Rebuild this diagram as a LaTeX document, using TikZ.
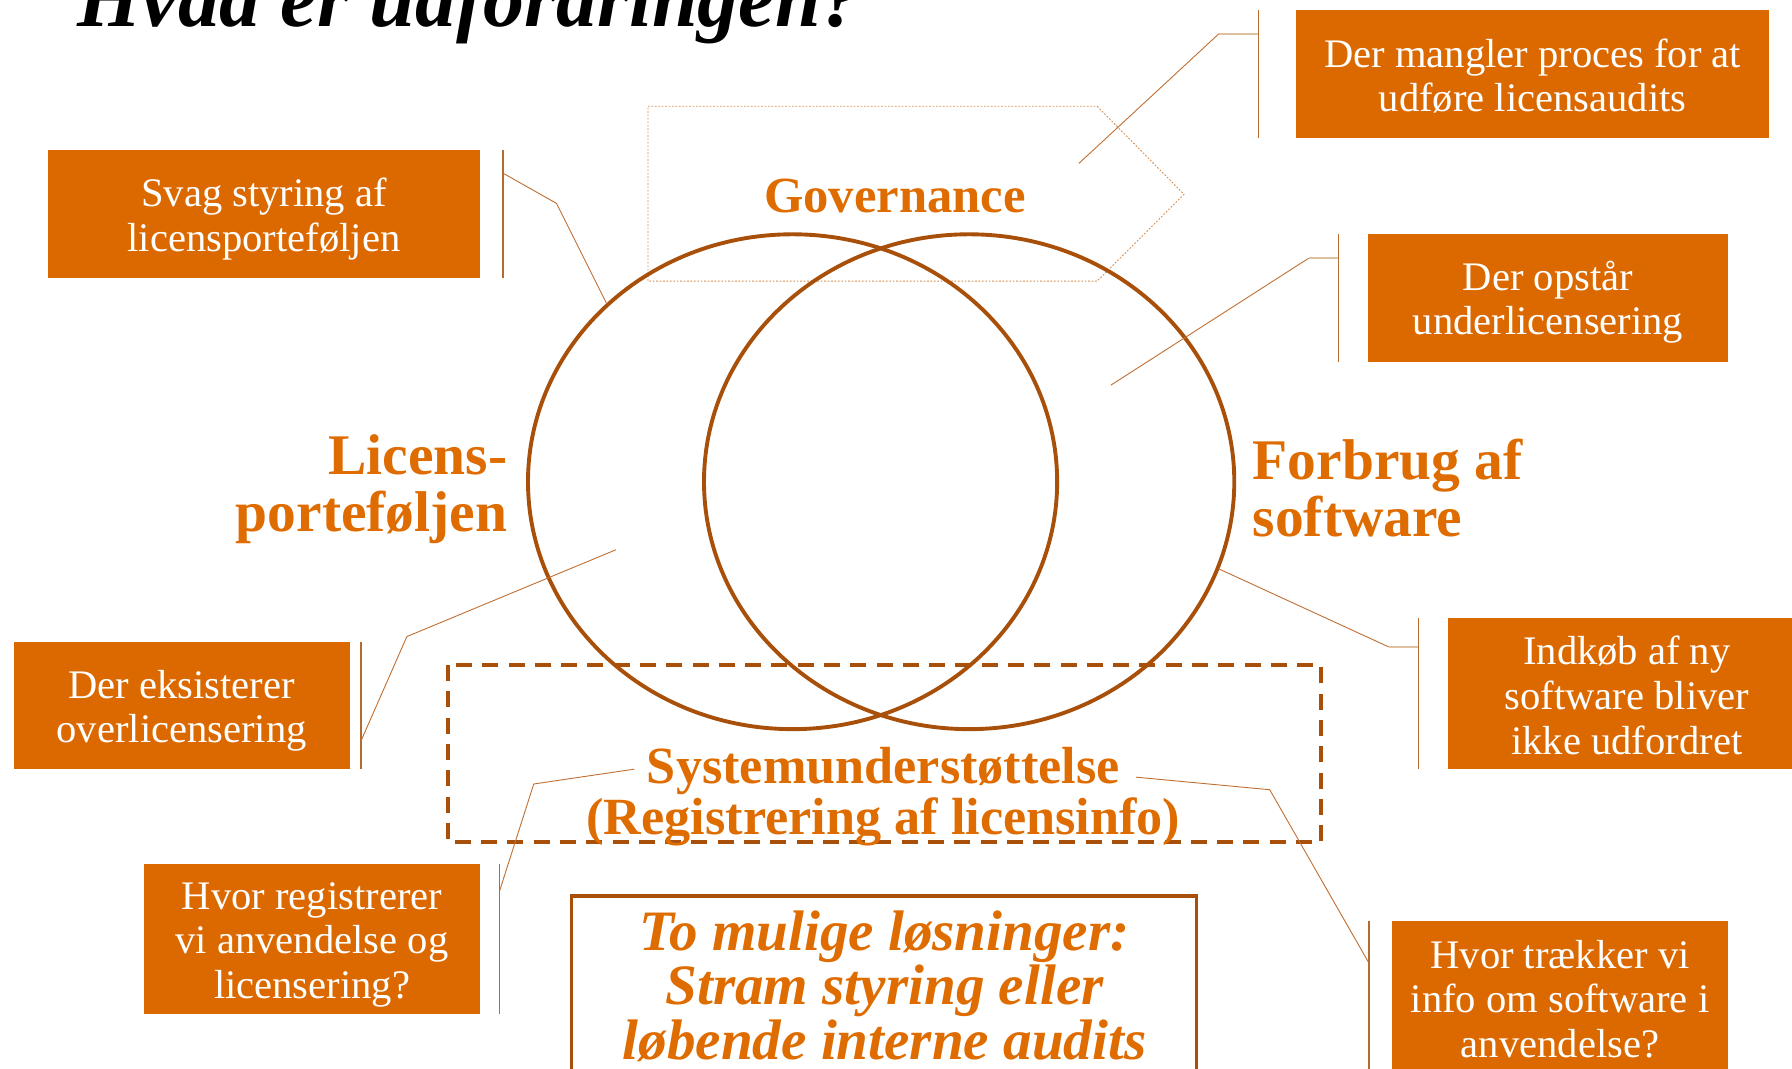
\documentclass[tikz,border=0pt]{standalone}
\usepackage{fontspec}
\setmainfont{Liberation Serif}
\definecolor{boxorange}{RGB}{219,105,0}
\definecolor{labelorange}{RGB}{222,108,0}
\definecolor{vennbrown}{RGB}{168,80,10}
\definecolor{leadercol}{RGB}{192,112,52}
\definecolor{tancol}{RGB}{224,192,158}
\definecolor{dotcol}{RGB}{214,140,80}
\begin{document}
\begin{tikzpicture}[x=1pt,y=-1pt,
  obox/.style={fill=boxorange, inner sep=0pt},
  otext/.style={text=white, align=center, inner sep=0pt,
    font=\fontsize{35.5}{39}\selectfont},
  biglabel/.style={text=labelorange, inner sep=0pt,
    font=\bfseries\fontsize{50.3}{50}\selectfont},
  vennline/.style={draw=vennbrown, line width=3.4pt},
  bracket/.style={draw=vennbrown!85!white, line width=1.2pt},
  leader/.style={draw=leadercol, line width=0.8pt},
  tanseg/.style={draw=tancol, line width=1.5pt}
]
\useasboundingbox (0,0) rectangle (1568,935);

% title
\node[anchor=base west, inner sep=0pt, font=\bfseries\itshape\fontsize{71.8}{72}\selectfont] (title) at (68,23) {Hvad er udfordringen?};

% governance dotted pentagon
\draw[draw=dotcol, line width=0.8pt, dash pattern=on 1.5pt off 1.5pt]
  (567,93) -- (960,93) -- (1036,170) -- (960,246) -- (567,246) -- cycle;
\node[text=labelorange, inner sep=0pt, anchor=base, font=\bfseries\fontsize{44.3}{45}\selectfont] (gov) at (783,186) {Governance};

% venn ellipses
\draw[vennline] (693.5,421.5) ellipse [x radius=231.5, y radius=216.5];
\draw[vennline] (848,421.5) ellipse [x radius=232, y radius=216.5];

% big labels
\node[biglabel, anchor=east, align=right] (lic) at (444,428) {Licens-\\porteføljen};
\node[biglabel, anchor=west, align=left] (forb) at (1096,427) {Forbrug af\\software};

% system support dashed box
\draw[draw=vennbrown, line width=3.4pt, dash pattern=on 14pt off 9pt] (392,582) rectangle (1156,737);
\node[text=labelorange, inner sep=0pt, align=center, font=\bfseries\fontsize{45.7}{45}\selectfont] (sys) at (773,697) {Systemunderstøttelse\\(Registrering af licensinfo)};

% bottom solutions box
\draw[draw=vennbrown, line width=3pt] (500,784) rectangle (1047,960);
\node[text=labelorange, inner sep=0pt, align=center, font=\bfseries\itshape\fontsize{50}{47.5}\selectfont] (sol) at (774,863) {To mulige løsninger:\\Stram styring eller\\løbende interne audits};

% orange boxes
\node[obox, minimum width=378pt, minimum height=112pt] (boxA) at (231,187) {};
\node[obox, minimum width=414pt, minimum height=112pt] (boxB) at (1341,65) {};
\node[obox, minimum width=315pt, minimum height=112pt] (boxC) at (1354.5,261) {};
\node[obox, minimum width=313pt, minimum height=132pt] (boxD) at (1423.5,607) {};
\node[obox, minimum width=294pt, minimum height=111pt] (boxE) at (159,617.5) {};
\node[obox, minimum width=294pt, minimum height=131pt] (boxF) at (273,821.5) {};
\node[obox, minimum width=294pt, minimum height=134pt] (boxG) at (1365,873) {};
% box texts
\node[otext] (tA) at ([yshift=-4.5pt]boxA.center) {Svag styring af\\licensporteføljen};
\node[otext] (tB) at ([yshift=-1.5pt]boxB.center) {Der mangler proces for at\\udføre licensaudits};
\node[otext] (tC) at ([yshift=-3.5pt]boxC.center) {Der opstår\\underlicensering};
\node[otext] (tD) at ([yshift=-1.5pt]boxD.center) {Indkøb af ny\\software bliver\\ikke udfordret};
\node[otext] (tE) at ([yshift=-4.5pt]boxE.center) {Der eksisterer\\overlicensering};
\node[otext] (tF) at ([yshift=-5pt]boxF.center) {Hvor registrerer\\vi anvendelse og\\licensering?};
\node[otext] (tG) at ([yshift=-1pt]boxG.center) {Hvor trækker vi\\info om software i\\anvendelse?};

% callout coordinates
\coordinate (A0) at (440,131); \coordinate (A1) at (440,243);
\coordinate (Aa) at (441,152); \coordinate (Ab) at (487,178); \coordinate (Ac) at (531,266);
\coordinate (B0) at (1101,9); \coordinate (B1) at (1101,121);
\coordinate (Ba) at (1101,30); \coordinate (Bb) at (1066,30); \coordinate (Bc) at (944,143);
\coordinate (C0) at (1171,205); \coordinate (C1) at (1171,317);
\coordinate (Ca) at (1171,226); \coordinate (Cb) at (1145,226); \coordinate (Cc) at (972,337);
\coordinate (D0) at (1241,541); \coordinate (D1) at (1241,673);
\coordinate (Da) at (1241,566); \coordinate (Db) at (1215,566); \coordinate (Dc) at (1067,498);
\coordinate (E0) at (316,562); \coordinate (E1) at (316,673);
\coordinate (Ea) at (316,648); \coordinate (Eb) at (356,557); \coordinate (Ec) at (539,481);
\coordinate (F0) at (437,756); \coordinate (F1) at (437,887);
\coordinate (Fa) at (437,780); \coordinate (Fb) at (467,686); \coordinate (Fc) at (555,673);
\coordinate (G0) at (1198,806); \coordinate (G1) at (1198,945);
\coordinate (Ga) at (1198,843); \coordinate (Gb) at (1111,691); \coordinate (Gc) at (994,680);

% brackets
\foreach \k in {A,B,C,D,E,F,G} { \draw[bracket] (\k0) -- (\k1); }
% tan short segments
\draw[tanseg] (Ba) -- (Bb);
\draw[tanseg] (Ca) -- (Cb);
\draw[tanseg] (Da) -- (Db);
% leaders
\draw[leader] (Aa) -- (Ab) -- (Ac);
\draw[leader] (Bb) -- (Bc);
\draw[leader] (Cb) -- (Cc);
\draw[leader] (Db) -- (Dc);
\draw[leader] (Ea) -- (Eb) -- (Ec);
\draw[leader] (Fa) -- (Fb) -- (Fc);
\draw[leader] (Ga) -- (Gb) -- (Gc);
\end{tikzpicture}
\end{document}
